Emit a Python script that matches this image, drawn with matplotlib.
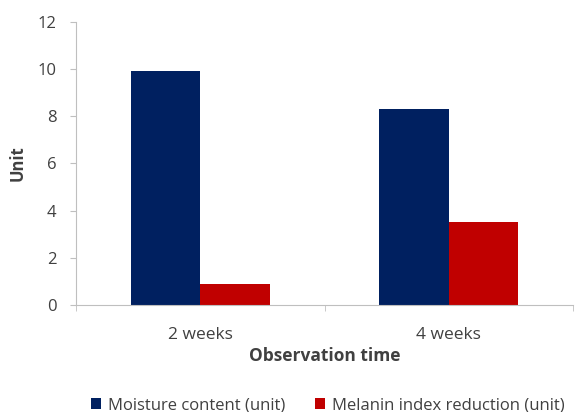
import matplotlib.pyplot as plt
import numpy as np

plt.rcParams['font.family'] = ['Open Sans', 'DejaVu Sans']

# Values per observation time
categories = ['2 weeks', '4 weeks']
moisture = [9.9, 8.3]
melanin = [0.9, 3.5]
series_names = ['Moisture content (unit)', 'Melanin index reduction (unit)']

fig = plt.figure(figsize=(5.8, 4.12), dpi=100)
ax = fig.add_axes([0.131, 0.26, 0.857, 0.687])

x = np.arange(len(categories))
w = 0.28
ax.bar(x - w / 2, moisture, w, color='#002060', label=series_names[0])
ax.bar(x + w / 2, melanin, w, color='#C00000', label=series_names[1])

ax.set_xlim(-0.5, len(categories) - 0.5)
ax.set_ylim(0, 12)
ax.set_yticks(range(0, 13, 2))
ax.set_xticks(x)
ax.set_xticklabels(categories)
ax.set_xticks(np.arange(-0.5, len(categories), 1), minor=True)
ax.tick_params(axis='x', which='major', length=0, pad=16, labelsize=12.5, labelcolor='#404040')
ax.tick_params(axis='x', which='minor', length=4, color='#BFBFBF')
ax.tick_params(axis='y', length=4, color='#BFBFBF', labelsize=12, labelcolor='#404040', pad=10)

for side in ['top', 'right']:
    ax.spines[side].set_visible(False)
for side in ['left', 'bottom']:
    ax.spines[side].set_color('#BFBFBF')

ax.set_ylabel('Unit', fontsize=12, fontweight='bold', color='#404040', labelpad=8)
ax.set_xlabel('Observation time', fontsize=12.5, fontweight='bold', color='#404040', labelpad=3)

fig.legend(loc='lower center', bbox_to_anchor=(0.565, -0.04), ncol=2, frameon=False,
           fontsize=12, handlelength=0.6, handleheight=0.6, columnspacing=1.8,
           handletextpad=0.4, labelcolor='#404040')

fig.savefig('out.png', dpi=100)
